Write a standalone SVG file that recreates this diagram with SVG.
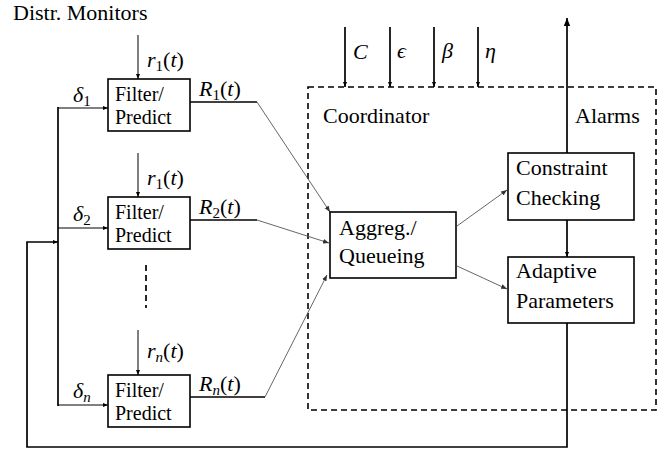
<svg xmlns="http://www.w3.org/2000/svg" width="670" height="449" viewBox="0 0 670 449">
<defs>
<marker id="ah" viewBox="0 0 10 10" refX="10" refY="5" markerWidth="5" markerHeight="5" orient="auto" markerUnits="userSpaceOnUse"><path d="M0,1 L10,5 L0,9 z" fill="#000"/></marker>
<marker id="ahg" viewBox="0 0 10 10" refX="10" refY="5" markerWidth="6" markerHeight="6" orient="auto" markerUnits="userSpaceOnUse"><path d="M0,1 L10,5 L0,9 z" fill="#333"/></marker>
<marker id="ahb" viewBox="0 0 10 10" refX="10" refY="5" markerWidth="9" markerHeight="8" orient="auto" markerUnits="userSpaceOnUse"><path d="M0,1 L10,5 L0,9 z" fill="#000"/></marker>
</defs>
<style>
text{font-family:"Liberation Serif","DejaVu Serif",serif;font-size:22px;fill:#000}
.i{font-style:italic}
.s{font-size:15px}
.f{font-size:20px}
.box{fill:#fff;stroke:#000;stroke-width:1.6}
.thin{stroke:#000;stroke-width:1;fill:none}
.thick{stroke:#000;stroke-width:1.7;fill:none}
.gray{stroke:#555;stroke-width:0.9;fill:none}
</style>
<rect width="670" height="449" fill="#fff"/>
<text x="13" y="20">Distr. Monitors</text>

<g id="connectors">
<rect x="308" y="87" width="348" height="323" fill="none" stroke="#000" stroke-width="1.6" stroke-dasharray="6,4"/>
<line class="thin" x1="138" y1="35" x2="138" y2="79" marker-end="url(#ah)"/>
<line class="thin" x1="138" y1="153" x2="138" y2="197" marker-end="url(#ah)"/>
<line class="thin" x1="138" y1="330" x2="138" y2="375" marker-end="url(#ah)"/>
<line class="thick" x1="58" y1="107" x2="58" y2="406"/>
<line class="thin" x1="58" y1="108" x2="108" y2="108" marker-end="url(#ah)"/>
<line class="thin" x1="58" y1="228" x2="108" y2="228" marker-end="url(#ah)"/>
<line class="thin" x1="58" y1="405" x2="108" y2="405" marker-end="url(#ah)"/>
<line x1="146" y1="265" x2="146" y2="308" stroke="#000" stroke-width="1.7" stroke-dasharray="6,4"/>
<line class="thick" x1="190" y1="102" x2="257" y2="102"/>
<line class="thick" x1="190" y1="220" x2="257" y2="220"/>
<line class="thick" x1="190" y1="397" x2="265" y2="397"/>
<line class="gray" x1="257" y1="102" x2="330" y2="212" marker-end="url(#ahg)"/>
<line class="gray" x1="257" y1="220" x2="329" y2="243" marker-end="url(#ahg)"/>
<line class="gray" x1="265" y1="397" x2="327" y2="275" marker-end="url(#ahg)"/>
<line class="thick" x1="345" y1="27" x2="345" y2="87" marker-end="url(#ah)"/>
<line class="thick" x1="390" y1="27" x2="390" y2="87" marker-end="url(#ah)"/>
<line class="thick" x1="434" y1="27" x2="434" y2="87" marker-end="url(#ah)"/>
<line class="thick" x1="478" y1="27" x2="478" y2="87" marker-end="url(#ah)"/>
<line class="gray" x1="457" y1="226" x2="507" y2="190" marker-end="url(#ahg)"/>
<line class="gray" x1="457" y1="266" x2="507" y2="289" marker-end="url(#ahg)"/>
<line class="thick" x1="567" y1="220" x2="567" y2="257" marker-end="url(#ah)"/>
<line class="thick" x1="567" y1="153" x2="567" y2="18" marker-end="url(#ahb)"/>
<polyline class="thick" points="567,323 567,447 27,447 27,242 58,242" marker-end="url(#ah)"/>
</g>

<g id="labels">
<text x="147" y="67"><tspan class="i">r</tspan><tspan class="s" dy="4">1</tspan><tspan dy="-4">(</tspan><tspan class="i">t</tspan>)</text>
<text x="147" y="185"><tspan class="i">r</tspan><tspan class="s" dy="4">1</tspan><tspan dy="-4">(</tspan><tspan class="i">t</tspan>)</text>
<text x="147" y="358"><tspan class="i">r</tspan><tspan class="s i" dy="4">n</tspan><tspan dy="-4">(</tspan><tspan class="i">t</tspan>)</text>
<text x="73" y="102"><tspan class="i">δ</tspan><tspan class="s" dy="4">1</tspan></text>
<text x="73" y="221"><tspan class="i">δ</tspan><tspan class="s" dy="4">2</tspan></text>
<text x="73" y="398"><tspan class="i">δ</tspan><tspan class="s i" dy="4">n</tspan></text>
<text x="199" y="96"><tspan class="i">R</tspan><tspan class="s" dy="4">1</tspan><tspan dy="-4">(</tspan><tspan class="i">t</tspan>)</text>
<text x="199" y="214"><tspan class="i">R</tspan><tspan class="s" dy="4">2</tspan><tspan dy="-4">(</tspan><tspan class="i">t</tspan>)</text>
<text x="199" y="391"><tspan class="i">R</tspan><tspan class="s i" dy="4">n</tspan><tspan dy="-4">(</tspan><tspan class="i">t</tspan>)</text>
<text x="353" y="59" class="i">C</text>
<text x="397" y="58" class="i">ϵ</text>
<text x="442" y="58" class="i">β</text>
<text x="485" y="58" class="i">η</text>
<text x="323" y="123">Coordinator</text>
<text x="575" y="123">Alarms</text>
</g>

<g id="filter1"><rect class="box" x="108" y="79" width="82" height="52"/><text class="f" x="115" y="101">Filter/</text><text class="f" x="115" y="124">Predict</text></g>
<g id="filter2"><rect class="box" x="108" y="197" width="82" height="52"/><text class="f" x="115" y="219">Filter/</text><text class="f" x="115" y="242">Predict</text></g>
<g id="filtern"><rect class="box" x="108" y="375" width="82" height="52"/><text class="f" x="115" y="397">Filter/</text><text class="f" x="115" y="420">Predict</text></g>
<g id="aggreg"><rect class="box" x="330" y="212" width="126" height="66"/><text x="339" y="235">Aggreg./</text><text x="339" y="263">Queueing</text></g>
<g id="constraint"><rect class="box" x="508" y="153" width="126" height="67"/><text x="516" y="175">Constraint</text><text x="516" y="205">Checking</text></g>
<g id="adaptive"><rect class="box" x="508" y="257" width="126" height="66"/><text x="516" y="278">Adaptive</text><text x="516" y="308">Parameters</text></g>
</svg>
